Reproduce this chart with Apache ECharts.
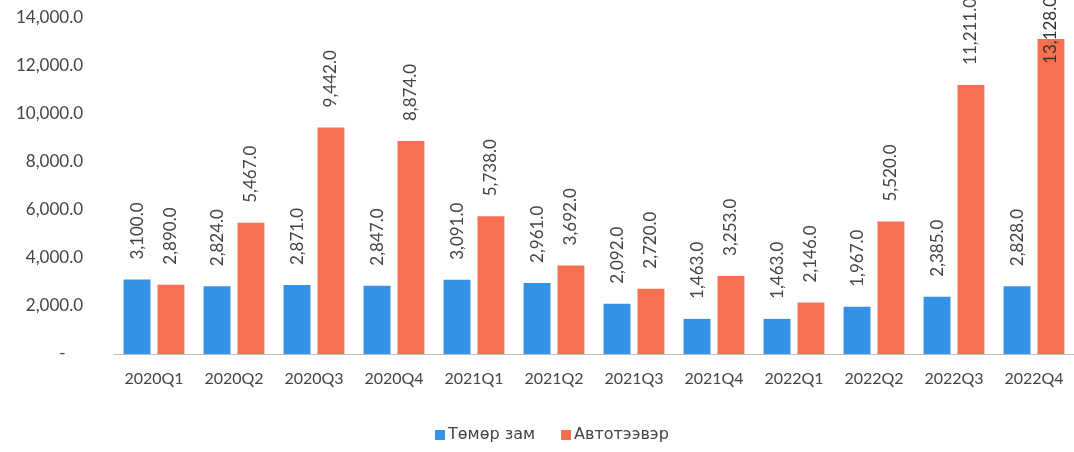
<!DOCTYPE html>
<html>
<head>
<meta charset="utf-8">
<script src="https://cdn.jsdelivr.net/npm/echarts@6/dist/echarts.min.js"></script>
<style>
html,body{margin:0;padding:0;background:#fff;}
#chart{width:1074px;height:452px;}
</style>
</head>
<body>
<div id="chart"></div>
<script>
var categories = ['2020Q1','2020Q2','2020Q3','2020Q4','2021Q1','2021Q2','2021Q3','2021Q4','2022Q1','2022Q2','2022Q3','2022Q4'];
var railName = 'Төмөр зам';
var roadName = 'Автотээвэр';
var railValues = [3100, 2824, 2871, 2847, 3091, 2961, 2092, 1463, 1463, 1967, 2385, 2828];
var roadValues = [2890, 5467, 9442, 8874, 5738, 3692, 2720, 3253, 2146, 5520, 11211, 13128];
var yTicks = [0, 2000, 4000, 6000, 8000, 10000, 12000, 14000];

function fmt(v){
  return Number(v).toLocaleString('en-US',{minimumFractionDigits:1,maximumFractionDigits:1});
}
var font = 'Lato, "Liberation Sans", sans-serif';
var txt = '#444';

function labelOpt(){
  return {
    show: true,
    position: 'top',
    rotate: 90,
    align: 'left',
    verticalAlign: 'middle',
    distance: 20,
    color: txt,
    fontFamily: font,
    fontSize: 17,
    formatter: function(p){ return fmt(p.value); }
  };
}
// labels that would run off the top are pulled down into the bar (as the source does)
function withFit(values){
  var maxV = yTicks[yTicks.length-1];
  return values.map(function(v){
    if (v / maxV > 0.9) return { value: v, label: { distance: -25, color: '#333', textBorderWidth: 0 } };
    return v;
  });
}

var chart = echarts.init(document.getElementById('chart'), null, {renderer:'canvas'});
chart.setOption({
  animation: false,
  backgroundColor: '#fff',
  grid: { left: 114, top: 18, width: 964, bottom: 98, containLabel: false },
  legend: {
    bottom: 4,
    left: 430,
    itemWidth: 10,
    itemHeight: 10,
    itemGap: 26,
    icon: 'rect',
    textStyle: { color: txt, fontFamily: '"DejaVu Sans", sans-serif', fontSize: 16, padding: [0,0,0,-2] },
    data: [railName, roadName]
  },
  xAxis: {
    type: 'category',
    data: categories,
    axisLine: { lineStyle: { color: '#bfbfbf', width: 1 } },
    axisTick: { show: false },
    axisLabel: { color: txt, fontFamily: font, fontSize: 16, margin: 17 }
  },
  yAxis: {
    type: 'value',
    min: yTicks[0],
    max: yTicks[yTicks.length-1],
    interval: yTicks[1]-yTicks[0],
    axisLine: { show: false },
    axisTick: { show: false },
    splitLine: { show: false },
    axisLabel: {
      color: txt, fontFamily: font, fontSize: 17, margin: 31,
      formatter: function(v){ return v === 0 ? '-    ' : fmt(v); }
    }
  },
  series: [
    {
      name: railName, type: 'bar', data: withFit(railValues),
      itemStyle: { color: '#3491E6' },
      barGap: '26%', barCategoryGap: '24%',
      label: labelOpt()
    },
    {
      name: roadName, type: 'bar', data: withFit(roadValues),
      itemStyle: { color: '#F87050' },
      barGap: '26%', barCategoryGap: '24%',
      label: labelOpt()
    }
  ]
});
</script>
</body>
</html>
